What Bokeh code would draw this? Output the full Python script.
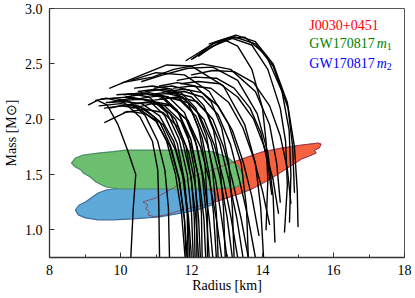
from bokeh.plotting import figure
from bokeh.models import Range1d, FixedTicker, Label, NumeralTickFormatter
from bokeh.embed import file_html
from bokeh.resources import INLINE

# ---------------- data ----------------
# J0030+0451 credible region (radius km, mass Msun)
J0030_R = [10.63, 10.99, 11.38, 12.02, 12.58, 13.34, 13.98, 14.54, 15.10, 15.57, 15.65,
           15.60, 15.46, 15.51, 15.32, 15.10, 14.62, 14.17, 13.70, 13.42, 13.00, 12.58,
           11.74, 11.27, 10.96, 10.77, 10.82, 10.71, 10.77]
J0030_M = [1.252, 1.288, 1.360, 1.477, 1.541, 1.631, 1.703, 1.739, 1.766, 1.784, 1.775,
           1.739, 1.721, 1.694, 1.667, 1.640, 1.541, 1.450, 1.369, 1.333, 1.288, 1.243,
           1.180, 1.135, 1.117, 1.135, 1.162, 1.189, 1.225]

# GW170817 m1 region
GW_M1_R = [8.62, 8.73, 8.95, 9.37, 9.79, 10.15, 10.91, 11.74, 12.58, 13.00, 13.31, 13.48,
           13.42, 13.20, 12.30, 11.18, 10.35, 9.98, 9.59, 9.31, 9.15, 8.95, 8.89, 8.73]
GW_M1_M = [1.604, 1.649, 1.676, 1.694, 1.707, 1.721, 1.721, 1.721, 1.707, 1.658, 1.577, 1.486,
           1.414, 1.378, 1.369, 1.369, 1.369, 1.369, 1.387, 1.432, 1.477, 1.514, 1.541, 1.568]

# GW170817 m2 region
GW_M2_R = [8.73, 8.84, 9.01, 9.17, 9.37, 9.59, 9.93, 10.63, 11.74, 12.44, 12.67, 12.69,
           12.58, 12.16, 11.74, 11.10, 10.35, 9.79, 9.37, 9.01, 8.81]
GW_M2_M = [1.180, 1.225, 1.252, 1.288, 1.333, 1.360, 1.374, 1.378, 1.378, 1.369, 1.342, 1.288,
           1.225, 1.180, 1.153, 1.117, 1.099, 1.090, 1.090, 1.108, 1.135]

# mass-radius curves (radius km, mass Msun)
CURVES_R = [
    [10.29, 10.36, 10.43, 10.20, 9.93, 9.62, 9.35, 9.10],
    [11.10, 11.08, 11.05, 10.90, 10.55, 10.10, 9.60, 9.30],
    [11.38, 11.35, 11.25, 11.05, 10.70, 10.25, 9.80, 9.45],
    [11.85, 11.80, 11.65, 11.40, 11.00, 10.50, 10.00, 9.55],
    [11.90, 11.88, 11.75, 11.50, 11.10, 10.60, 10.10, 9.60],
    [11.95, 11.90, 11.80, 11.60, 11.25, 10.80, 10.25, 9.80],
    [12.00, 11.92, 11.78, 11.55, 11.20, 10.70, 10.20, 9.56],
    [12.05, 12.00, 11.88, 11.65, 11.30, 10.80, 10.30, 9.90],
    [12.10, 12.08, 12.00, 11.85, 11.55, 11.10, 10.60, 10.00],
    [12.20, 12.12, 11.98, 11.75, 11.40, 10.90, 10.30, 9.70],
    [12.30, 12.28, 12.18, 11.98, 11.65, 11.15, 10.60, 10.10],
    [12.40, 12.35, 12.22, 12.00, 11.70, 11.25, 10.75, 10.20],
    [12.50, 12.42, 12.30, 12.10, 11.80, 11.35, 10.80, 10.30],
    [12.60, 12.50, 12.35, 12.15, 11.85, 11.40, 10.90, 10.40],
    [12.70, 12.62, 12.50, 12.30, 12.00, 11.55, 11.00, 10.50],
    [12.85, 12.70, 12.50, 12.25, 11.90, 11.40, 10.90, 10.35],
    [13.00, 12.85, 12.68, 12.45, 12.12, 11.65, 11.10, 10.60],
    [13.15, 13.00, 12.80, 12.55, 12.20, 11.75, 11.20, 10.80],
    [13.30, 13.12, 12.90, 12.65, 12.35, 11.90, 11.40, 10.90],
    [13.45, 13.28, 13.05, 12.80, 12.45, 12.00, 11.50, 11.00],
    [13.60, 13.40, 13.15, 12.90, 12.60, 12.15, 11.60, 11.10],
    [13.80, 13.60, 13.35, 13.10, 12.75, 12.30, 11.80, 11.30],
    [14.20, 14.00, 13.75, 13.45, 13.05, 12.55, 12.00, 11.50],
    [14.45, 14.30, 14.05, 13.75, 13.30, 12.80, 12.20, 11.70],
    [13.90, 13.70, 13.45, 13.15, 12.75, 12.30, 11.80, 11.30],
    [12.15, 12.15, 12.08, 11.90, 11.60, 11.20, 10.70, 10.15],
    [12.25, 12.20, 12.10, 11.92, 11.62, 11.20, 10.70, 10.10],
    [12.45, 12.45, 12.38, 12.20, 11.90, 11.45, 10.90, 10.40],
    [12.75, 12.70, 12.60, 12.42, 12.12, 11.70, 11.20, 10.70],
    [12.95, 12.90, 12.80, 12.62, 12.35, 11.95, 11.45, 10.95],
    [13.20, 13.15, 13.05, 12.85, 12.55, 12.10, 11.60, 11.10],
    [14.80, 14.70, 14.50, 14.20, 13.75, 13.20, 12.60, 12.00],
    [14.26, 14.15, 13.95, 13.65, 13.20, 12.70, 12.10, 11.60],
    [11.82, 11.72, 11.55, 11.30, 10.95, 10.50, 10.00, 9.40],
    [11.88, 11.80, 11.66, 11.42, 11.10, 10.65, 10.15, 9.70],
    [14.35, 14.30, 14.15, 13.85, 13.30, 12.60, 11.90, 11.20, 10.60],
    [14.50, 14.40, 14.20, 13.80, 13.10, 12.30, 11.50, 10.90, 10.05],
    [14.03, 13.95, 13.80, 13.50, 12.90, 12.00, 11.30, 10.60, 9.70],
    [13.60, 13.55, 13.40, 13.05, 12.50, 11.80, 11.00, 10.30],
    [15.00, 14.98, 14.90, 14.70, 14.30, 13.80, 13.25, 12.70, 12.20, 11.85],
    [14.90, 14.85, 14.72, 14.30, 13.80, 13.20, 12.60, 12.05],
    [14.62, 14.70, 14.65, 14.50, 14.15, 13.70, 13.15, 12.60, 12.20],
    [14.10, 14.15, 14.10, 14.00, 13.70, 13.30, 12.90, 12.50],
    [14.76, 14.80, 14.75, 14.55, 14.10, 13.50, 13.00, 12.40, 12.00],
]
CURVES_M = [
    [0.75, 1.20, 1.50, 1.72, 1.95, 2.13, 2.17, 2.13],
    [0.75, 1.20, 1.54, 1.80, 2.02, 2.15, 2.19, 2.17],
    [0.75, 1.20, 1.54, 1.80, 2.03, 2.16, 2.19, 2.18],
    [0.75, 1.10, 1.45, 1.75, 1.98, 2.10, 2.12, 2.10],
    [0.75, 1.15, 1.50, 1.80, 2.03, 2.14, 2.16, 2.15],
    [0.75, 1.10, 1.45, 1.78, 2.03, 2.17, 2.20, 2.19],
    [0.75, 1.10, 1.45, 1.72, 1.95, 2.05, 2.07, 1.97],
    [0.75, 1.15, 1.50, 1.82, 2.06, 2.20, 2.23, 2.22],
    [0.75, 1.10, 1.45, 1.75, 2.00, 2.14, 2.18, 2.17],
    [0.75, 1.12, 1.48, 1.80, 2.05, 2.17, 2.19, 2.15],
    [0.75, 1.15, 1.50, 1.82, 2.05, 2.20, 2.24, 2.22],
    [0.75, 1.10, 1.45, 1.75, 1.98, 2.12, 2.15, 2.13],
    [0.75, 1.12, 1.50, 1.82, 2.06, 2.20, 2.24, 2.22],
    [0.75, 1.10, 1.45, 1.76, 2.00, 2.13, 2.16, 2.14],
    [0.75, 1.15, 1.50, 1.83, 2.08, 2.23, 2.27, 2.25],
    [0.75, 1.10, 1.45, 1.75, 1.99, 2.12, 2.14, 2.10],
    [0.75, 1.10, 1.45, 1.77, 2.03, 2.18, 2.21, 2.19],
    [0.75, 1.12, 1.48, 1.80, 2.05, 2.20, 2.24, 2.22],
    [0.75, 1.10, 1.45, 1.76, 2.00, 2.15, 2.19, 2.17],
    [0.75, 1.10, 1.45, 1.78, 2.05, 2.20, 2.24, 2.22],
    [0.75, 1.10, 1.45, 1.75, 2.00, 2.16, 2.20, 2.18],
    [0.75, 1.10, 1.45, 1.77, 2.04, 2.20, 2.25, 2.23],
    [1.05, 1.35, 1.65, 1.92, 2.15, 2.28, 2.30, 2.28],
    [1.15, 1.45, 1.75, 2.00, 2.20, 2.32, 2.34, 2.32],
    [0.95, 1.30, 1.62, 1.90, 2.12, 2.24, 2.27, 2.25],
    [0.75, 1.20, 1.55, 1.85, 2.08, 2.20, 2.23, 2.20],
    [0.75, 1.10, 1.42, 1.70, 1.93, 2.06, 2.09, 2.06],
    [0.75, 1.20, 1.60, 1.92, 2.15, 2.27, 2.30, 2.28],
    [0.75, 1.15, 1.52, 1.85, 2.10, 2.24, 2.27, 2.25],
    [0.75, 1.20, 1.58, 1.90, 2.12, 2.26, 2.30, 2.28],
    [0.75, 1.20, 1.60, 1.92, 2.16, 2.30, 2.33, 2.30],
    [1.24, 1.55, 1.85, 2.12, 2.33, 2.43, 2.44, 2.40],
    [1.32, 1.60, 1.88, 2.10, 2.28, 2.37, 2.38, 2.35],
    [0.75, 1.15, 1.50, 1.80, 2.02, 2.12, 2.14, 2.12],
    [0.75, 1.10, 1.45, 1.75, 1.98, 2.10, 2.13, 2.10],
    [0.89, 1.30, 1.70, 2.05, 2.35, 2.47, 2.46, 2.40, 2.34],
    [1.25, 1.60, 1.95, 2.25, 2.45, 2.50, 2.45, 2.38, 2.33],
    [0.75, 1.20, 1.60, 1.95, 2.30, 2.48, 2.49, 2.40, 2.28],
    [0.75, 1.20, 1.60, 1.95, 2.25, 2.40, 2.42, 2.35],
    [1.03, 1.35, 1.75, 2.15, 2.50, 2.70, 2.76, 2.70, 2.60, 2.53],
    [1.34, 1.75, 2.10, 2.48, 2.68, 2.745, 2.68, 2.55],
    [0.98, 1.40, 1.80, 2.10, 2.45, 2.67, 2.73, 2.66, 2.57],
    [1.00, 1.45, 1.80, 2.10, 2.45, 2.66, 2.72, 2.68],
    [1.07, 1.50, 1.90, 2.25, 2.58, 2.74, 2.73, 2.62, 2.54],
]

X_TICKS = [8, 10, 12, 14, 16, 18]
X_MINOR = [9, 11, 13, 15, 17]
Y_TICKS = [1.0, 1.5, 2.0, 2.5, 3.0]

LEGEND_NAMES = ["J0030+0451", "GW170817 ", "GW170817 "]
LEGEND_SUBS = ["", "1", "2"]
LEGEND_COLORS = ["#ff0000", "#008000", "#0000ff"]

FONT = "Liberation Serif"

# ---------------- figure ----------------
p = figure(width=415, height=298, output_backend="svg", toolbar_location=None,
           x_range=Range1d(8, 18), y_range=Range1d(0.75, 3.0),
           min_border_left=46, min_border_right=11, min_border_top=8, min_border_bottom=41)
p.background_fill_color = "white"
p.border_fill_color = "white"
p.xgrid.visible = False
p.ygrid.visible = False
p.outline_line_color = "#555555"
p.outline_line_width = 1

for ax in (p.xaxis[0], p.yaxis[0]):
    ax.axis_line_color = "#333333"
    ax.axis_line_width = 1.3
    ax.major_tick_line_color = "#333333"
    ax.minor_tick_line_color = "#333333"
    ax.major_tick_in = 5
    ax.major_tick_out = 0
    ax.minor_tick_in = 3
    ax.minor_tick_out = 0
    ax.major_label_text_font = FONT
    ax.major_label_text_font_size = "14px"
    ax.major_label_text_color = "black"
    ax.major_label_standoff = 7
    ax.axis_label_text_font = FONT
    ax.axis_label_text_font_size = "14px"
    ax.axis_label_text_font_style = "normal"
    ax.axis_label_text_color = "black"

p.xaxis[0].ticker = FixedTicker(ticks=X_TICKS, minor_ticks=X_MINOR)
p.yaxis[0].ticker = FixedTicker(ticks=Y_TICKS, minor_ticks=[])
p.yaxis[0].formatter = NumeralTickFormatter(format="0.0")
p.xaxis[0].axis_label = "Radius [km]"
p.xaxis[0].axis_label_standoff = 0
p.yaxis[0].axis_label = "Mass [M\u2299]"
p.yaxis[0].axis_label_standoff = 3

# regions
p.patch(J0030_R, J0030_M, fill_color="#f4623f", fill_alpha=1.0,
        line_color="#c8464a", line_width=1)
p.patch(GW_M2_R, GW_M2_M, fill_color="#5ea9d8", fill_alpha=1.0,
        line_color="#3d6f9e", line_width=1.2)
p.patch(GW_M1_R, GW_M1_M, fill_color="#6cbf6f", fill_alpha=1.0,
        line_color="#4b8a63", line_width=1.2)
p.line(J0030_R + J0030_R[:1], J0030_M + J0030_M[:1], line_color="#8a3550",
       line_alpha=0.75, line_width=1)

# curves
p.multi_line(CURVES_R, CURVES_M, line_color="black", line_width=1.4,
             line_join="round", line_cap="round")

# legend texts
leg_x = 15.32
leg_y = [2.847, 2.685, 2.505]
for name, sub, col, y in zip(LEGEND_NAMES, LEGEND_SUBS, LEGEND_COLORS, leg_y):
    p.add_layout(Label(x=leg_x, y=y, text=name, text_color=col, text_font=FONT,
                       text_font_size="14px", text_baseline="middle", text_align="left"))
    if sub:
        p.add_layout(Label(x=17.22, y=y, text="m", text_color=col, text_font=FONT,
                           text_font_size="14px", text_font_style="italic",
                           text_baseline="middle", text_align="left"))
        p.add_layout(Label(x=17.50, y=y - 0.03, text=sub, text_color=col, text_font=FONT,
                           text_font_size="10px", text_baseline="middle", text_align="left"))

open("out.html", "w").write(file_html(p, INLINE))
